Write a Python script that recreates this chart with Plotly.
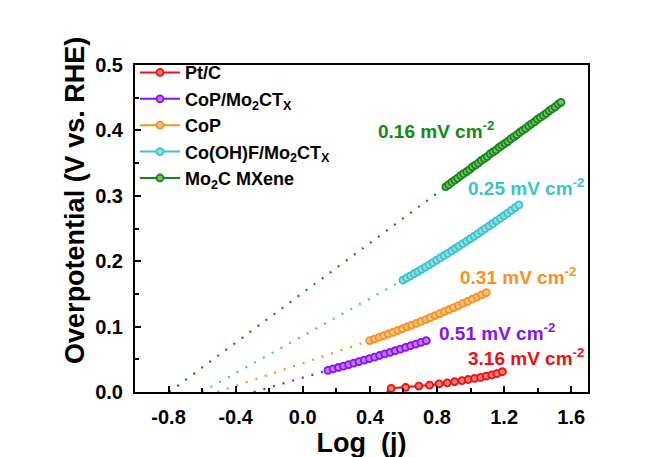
import plotly.graph_objects as go

# ---------------- data ----------------
names = ["Pt/C", "CoP/Mo<sub>2</sub>CT<sub>X</sub>", "CoP",
         "Co(OH)F/Mo<sub>2</sub>CT<sub>X</sub>", "Mo<sub>2</sub>C MXene"]
colors = ["#f01010", "#8a12f5", "#f7921e", "#3cc4cc", "#138a13"]

ptc_x = [0.527, 0.613, 0.692, 0.756, 0.812, 0.861, 0.905, 0.949, 0.986, 1.024,
         1.060, 1.094, 1.126, 1.157, 1.190]
ptc_y = [0.0056, 0.0072, 0.0090, 0.0106, 0.0123, 0.0140, 0.0157, 0.0174, 0.0191,
         0.0208, 0.0225, 0.0243, 0.0261, 0.0282, 0.0310]

copmo_x = [0.150, 0.181, 0.212, 0.243, 0.273, 0.304, 0.335, 0.366, 0.397, 0.428,
           0.458, 0.489, 0.520, 0.551, 0.582, 0.613, 0.643, 0.674, 0.705, 0.736]
copmo_y = [0.0332, 0.0353, 0.0375, 0.0397, 0.0419, 0.0442, 0.0464, 0.0487, 0.0511,
           0.0534, 0.0558, 0.0582, 0.0606, 0.0631, 0.0656, 0.0681, 0.0707, 0.0733,
           0.0759, 0.0785]

cop_x = [0.399, 0.427, 0.455, 0.482, 0.510, 0.538, 0.566, 0.594, 0.621, 0.649,
         0.677, 0.705, 0.733, 0.760, 0.788, 0.816, 0.844, 0.872, 0.899, 0.927,
         0.955, 0.983, 1.011, 1.038, 1.066, 1.094]
cop_y = [0.0785, 0.0810, 0.0835, 0.0861, 0.0887, 0.0913, 0.0940, 0.0967, 0.0994,
         0.1022, 0.1050, 0.1079, 0.1108, 0.1138, 0.1167, 0.1198, 0.1228, 0.1259,
         0.1290, 0.1322, 0.1354, 0.1386, 0.1419, 0.1452, 0.1486, 0.1520]

cof_x = [0.597, 0.619, 0.642, 0.664, 0.686, 0.708, 0.731, 0.753, 0.775, 0.798,
         0.820, 0.842, 0.864, 0.887, 0.909, 0.931, 0.954, 0.976, 0.998, 1.021,
         1.043, 1.065, 1.087, 1.110, 1.132, 1.154, 1.177, 1.199, 1.221, 1.243,
         1.266, 1.288]
cof_y = [0.1710, 0.1743, 0.1776, 0.1809, 0.1842, 0.1876, 0.1910, 0.1945, 0.1979,
         0.2015, 0.2050, 0.2086, 0.2121, 0.2158, 0.2194, 0.2231, 0.2268, 0.2305,
         0.2343, 0.2381, 0.2419, 0.2458, 0.2497, 0.2536, 0.2575, 0.2615, 0.2655,
         0.2696, 0.2736, 0.2777, 0.2818, 0.2860]

mxene_x = [0.853, 0.870, 0.888, 0.906, 0.923, 0.941, 0.958, 0.976, 0.994, 1.011,
           1.029, 1.046, 1.064, 1.082, 1.099, 1.117, 1.134, 1.152, 1.170, 1.187,
           1.205, 1.222, 1.240, 1.258, 1.275, 1.293, 1.310, 1.328, 1.346, 1.363,
           1.381, 1.398, 1.416, 1.434, 1.451, 1.469, 1.486, 1.504, 1.522, 1.539]
mxene_y = [0.314, 0.317, 0.321, 0.324, 0.327, 0.331, 0.334, 0.337, 0.340, 0.344,
           0.347, 0.350, 0.354, 0.357, 0.360, 0.364, 0.367, 0.370, 0.374, 0.377,
           0.380, 0.383, 0.387, 0.390, 0.393, 0.397, 0.400, 0.403, 0.407, 0.410,
           0.413, 0.417, 0.420, 0.423, 0.426, 0.430, 0.433, 0.436, 0.440, 0.443]

# exchange current densities (labels) and Tafel-fit x-intercepts log(j0)
j0_labels = ["3.16", "0.51", "0.31", "0.25", "0.16"]
fit_x0 = [0.500, -0.292, -0.509, -0.602, -0.796]

# label anchor positions (data coordinates)
label_x = [0.975, 0.800, 0.925, 0.975, 0.437]
label_y = [0.054, 0.092, 0.178, 0.313, 0.400]

x_tickvals = [-0.8, -0.4, 0.0, 0.4, 0.8, 1.2, 1.6]
x_ticktext = ["-0.8", "-0.4", "0.0", "0.4", "0.8", "1.2", "1.6"]
y_tickvals = [0.0, 0.1, 0.2, 0.3, 0.4, 0.5]
y_ticktext = ["0.0", "0.1", "0.2", "0.3", "0.4", "0.5"]

series_x = [ptc_x, copmo_x, cop_x, cof_x, mxene_x]
series_y = [ptc_y, copmo_y, cop_y, cof_y, mxene_y]

FONT = "Arial, Liberation Sans, sans-serif"


def tint(hexc, f=0.45):
    r, g, b = int(hexc[1:3], 16), int(hexc[3:5], 16), int(hexc[5:7], 16)
    r, g, b = [int(c + (255 - c) * f) for c in (r, g, b)]
    return f"rgb({r},{g},{b})"


fig = go.Figure()

# dotted Tafel extrapolations
for i in range(5):
    fig.add_trace(go.Scatter(
        x=[fit_x0[i], series_x[i][0]], y=[0.0, series_y[i][0]],
        mode="lines", line=dict(color=colors[i], width=2.2, dash="2px,8px"),
        showlegend=False, hoverinfo="skip"))

# data series
for i in range(5):
    fig.add_trace(go.Scatter(
        x=series_x[i], y=series_y[i], name=names[i], mode="lines+markers",
        line=dict(color=colors[i], width=2),
        marker=dict(symbol="circle", size=7, color=tint(colors[i]),
                    line=dict(color=colors[i], width=1.8))))

for i in range(5):
    fig.add_annotation(
        x=label_x[i], y=label_y[i], xref="x", yref="y",
        text=f"{j0_labels[i]} mV cm<sup>-2</sup>", showarrow=False,
        xanchor="left", yanchor="middle",
        font=dict(family=FONT, size=19, color=colors[i], weight="bold"))

# y-axis title (placed like the reference, slightly above the plot centre)
fig.add_annotation(
    x=-0.132, y=0.585, xref="paper", yref="paper",
    text="Overpotential (V vs. RHE)", showarrow=False, textangle=-90,
    xanchor="center", yanchor="middle",
    font=dict(family=FONT, size=27, color="black", weight="bold"))

axis_common = dict(
    showline=True, linecolor="black", linewidth=2, mirror=True,
    ticks="inside", ticklen=6, tickwidth=1.5, tickcolor="black",
    showgrid=False, zeroline=False,
    tickfont=dict(family=FONT, size=20, color="black", weight="bold"),
)

fig.update_xaxes(
    range=[-1.0, 1.7], tickvals=x_tickvals, ticktext=x_ticktext,
    minor=dict(ticks="inside", ticklen=4, tickwidth=1.5, tickcolor="black",
               tickvals=[-1.0, -0.6, -0.2, 0.2, 0.6, 1.0, 1.4]),
    title=dict(text="Log  (j)", standoff=6,
               font=dict(family=FONT, size=27, color="black", weight="bold")),
    ticklabelstandoff=6,
    **axis_common)
fig.update_yaxes(
    range=[0, 0.5], tickvals=y_tickvals, ticktext=y_ticktext,
    minor=dict(ticks="inside", ticklen=4, tickwidth=1.5, tickcolor="black",
               tickvals=[0.05, 0.15, 0.25, 0.35, 0.45]),
    ticklabelstandoff=6,
    **axis_common)

fig.update_layout(
    width=660, height=457,
    margin=dict(l=127, r=80, t=57, b=69),
    paper_bgcolor="white", plot_bgcolor="white",
    font=dict(family=FONT, color="black"),
    legend=dict(x=0.0, y=1.033, xanchor="left", yanchor="top",
                bgcolor="rgba(0,0,0,0)", borderwidth=0,
                font=dict(family=FONT, size=18, color="black", weight="bold"),
                itemwidth=40, tracegroupgap=0),
    showlegend=True,
)

fig.write_html("out.html")
